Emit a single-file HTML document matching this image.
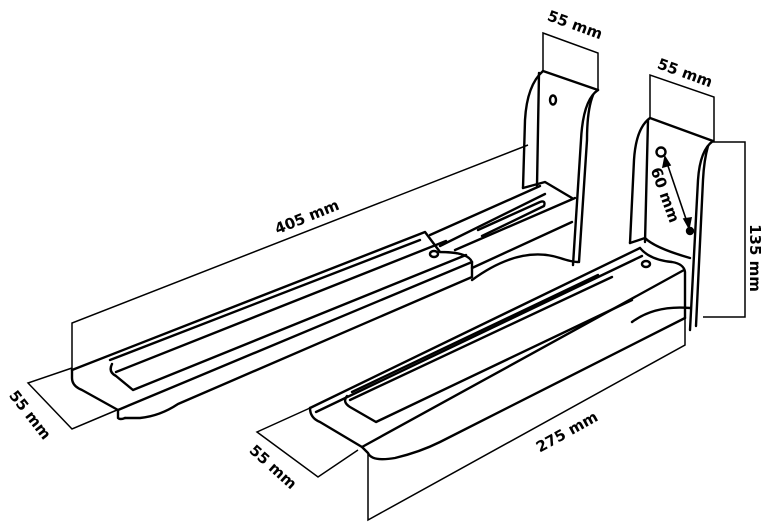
<!DOCTYPE html>
<html><head><meta charset="utf-8"><style>
html,body{margin:0;padding:0;background:#fff;}
svg{display:block}
text{font-family:"DejaVu Sans","Liberation Sans",sans-serif;font-size:15px;font-weight:bold;fill:#000;}
</style></head><body>
<svg width="776" height="532" viewBox="0 0 776 532" xmlns="http://www.w3.org/2000/svg">
<rect width="776" height="532" fill="#fff"/>
<g fill="none" stroke="#000" stroke-width="1.5">
  <polyline points="543,71 543,33 598,53 598,90"/>
  <polyline points="650,118 650,75 714,97 714,142"/>
  <polyline points="713,142 745,142 745,317 703,317"/>
  <polyline points="528,145 72,323 72,372"/>
  <polyline points="72,368 28,383 72,429 117,410"/>
  <polyline points="310,408 257,432 318,477 358,450"/>
  <polyline points="368,453 368,520 685,345 685,318"/>
</g>
<g fill="none" stroke="#000" stroke-width="2.4" stroke-linejoin="round" stroke-linecap="round">
  <path d="M543,71 L598,90"/>
  <path d="M543,71 Q527,85 525,120 L523,188"/>
  <path d="M539,73 L537,186"/>
  <path d="M598,90 Q583,100 581,140 L573,265"/>
  <path d="M593,95 Q587,110 587,140 L579,262"/>
  <ellipse cx="553" cy="100" rx="3" ry="4.5"/>
  <path d="M523,188 L545,182 L572,198"/>
  <path d="M430,235 L540,186"/>
  <path d="M440,246 L545,194"/>
  <path d="M478,230 L540,202 Q546,200 544,206 L482,236"/>
  <path d="M455,250 L575,198"/>
  <path d="M472,268 L572,222"/>
  <path d="M472,280 Q520,245 560,258 Q572,262 578,262"/>
  <path d="M72,370 L425,232 L440,252 Q468,252 472,262 L472,277 L178,404 Q160,416 140,418 L125,418"/>
  <path d="M72,370 L72,378 Q72,386 82,390 L118,410"/>
  <path d="M118,410 L472,262"/>
  <path d="M118,410 L118,418 Q120,420 125,418"/>
  <path d="M110,360 L420,240"/>
  <path d="M112,364 Q108,372 116,376 L133,390 L466,255"/>
  <path d="M116,372 L446,241"/>
  <ellipse cx="434" cy="254" rx="4" ry="3"/>
  <path d="M650,118 L713,141"/>
  <path d="M650,118 Q636,128 634,160 L630,243"/>
  <path d="M648,120 L645,242"/>
  <path d="M713,141 Q700,150 698,180 L690,330"/>
  <path d="M708,146 Q704,160 703,180 L696,326"/>
  <circle cx="661" cy="152" r="4.5"/>
  <circle cx="690" cy="231" r="3" fill="#000"/>
  <path d="M630,243 L645,238 Q655,248 690,258"/>
  <path d="M310,408 L640,248"/>
  <path d="M316,412 L642,256"/>
  <path d="M640,248 Q650,260 672,262 Q684,264 685,272 L685,318"/>
  <path d="M310,408 Q310,418 320,422 L362,447 L684,270"/>
  <path d="M362,447 L368,453 Q372,462 395,458 Q420,452 440,442 L685,318"/>
  <path d="M347,396 Q342,402 350,407 L376,422 L632,300"/>
  <path d="M350,400 L612,277"/>
  <path d="M352,392 L598,275"/>
  <path d="M632,322 Q655,305 690,308"/>
  <ellipse cx="646" cy="264" rx="4" ry="3"/>
</g>
<g stroke="#000" stroke-width="1.6" fill="#000">
  <line x1="667" y1="163" x2="687" y2="222"/>
  <polygon points="665,157 663,167 670,165"/>
  <polygon points="689,228 684,219 691,218"/>
</g>
<text x="575" y="30" text-anchor="middle" transform="rotate(20 575 25)">55 mm</text>
<text x="685" y="78" text-anchor="middle" transform="rotate(20 685 73)">55 mm</text>
<text x="755" y="263" text-anchor="middle" transform="rotate(90 755 258)">135 mm</text>
<text x="665" y="200" text-anchor="middle" transform="rotate(70 665 195)">60 mm</text>
<text x="307" y="222" text-anchor="middle" transform="rotate(-22 307 217)">405 mm</text>
<text x="30" y="420" text-anchor="middle" transform="rotate(52 30 415)">55 mm</text>
<text x="273" y="472" text-anchor="middle" transform="rotate(42 273 467)">55 mm</text>
<text x="567" y="437" text-anchor="middle" transform="rotate(-29 567 432)">275 mm</text>
</svg>
</body></html>
